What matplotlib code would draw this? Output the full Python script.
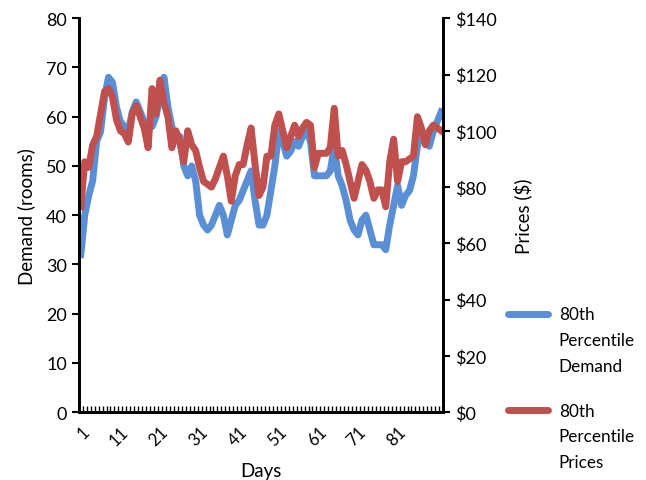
import numpy as np
import matplotlib.pyplot as plt
from matplotlib.lines import Line2D

plt.rcParams["font.family"] = ["Lato", "DejaVu Sans"]

# 80th percentile demand (rooms) and prices ($), one value per day
demand = [32, 40, 44, 47, 55, 57, 64, 68, 67, 62,
          59, 58, 57, 61, 63, 61, 59, 58, 58, 60,
          64, 68, 62, 58, 55, 56, 50, 48, 50, 47,
          40, 38, 37, 38, 40, 42, 40, 36, 39, 42,
          43, 45, 47, 49, 43, 38, 38, 40, 45, 50,
          57, 55, 52, 53, 55, 54, 56, 57, 55, 48,
          48, 48, 48, 49, 54, 48, 46, 43, 39, 37,
          36, 39, 40, 37, 34, 34, 34, 33, 38, 42,
          46, 42, 44, 45, 48, 54, 57, 55, 54, 57,
          59, 61]
prices = [73, 89, 87, 95, 98, 106, 114, 115, 112, 104,
          100, 99, 96, 106, 109, 105, 101, 94, 115, 106,
          118, 110, 105, 94, 100, 96, 89, 100, 95, 93,
          87, 82, 81, 80, 83, 87, 91, 84, 75, 84,
          88, 88, 95, 101, 88, 77, 80, 91, 91, 102,
          106, 100, 94, 98, 102, 98, 101, 103, 102, 87,
          92, 92, 92, 94, 108, 91, 93, 88, 82, 76,
          82, 88, 86, 82, 76, 79, 79, 73, 89, 97,
          82, 89, 89, 90, 91, 105, 101, 95, 100, 102,
          101, 100]
days = np.arange(1, len(demand) + 1)
day_labels = [1, 11, 21, 31, 41, 51, 61, 71, 81]
series = ["80th\nPercentile\nDemand", "80th\nPercentile\nPrices"]
colors = ["#5A8FD6", "#C0504D"]

fig = plt.figure(figsize=(6.46, 4.81), dpi=100)
ax = fig.add_axes([0.122, 0.141, 0.564, 0.819])
ax2 = ax.twinx()

ax.plot(days, demand, color=colors[0], lw=5, solid_joinstyle="round")
ax2.plot(days, prices, color=colors[1], lw=5, solid_joinstyle="round")

ax.set_xlim(0.5, len(days) + 0.5)
ax.set_ylim(0, 80)
ax2.set_ylim(0, 140)
ax.set_yticks(range(0, 81, 10))
ax2.set_yticks(range(0, 141, 20))
ax2.set_yticklabels([f"${v}" for v in range(0, 141, 20)])

ax.set_xticks(day_labels)
ax.set_xticks(np.arange(0.5, len(days) + 1), minor=True)
ax.set_xticklabels([str(d) for d in day_labels],
                   rotation=45, ha="right", va="top", rotation_mode="anchor")
ax.tick_params(axis="x", which="major", length=0, pad=8, labelsize=12)
ax.tick_params(axis="x", which="minor", direction="in", length=4, width=1)
ax.tick_params(axis="y", direction="out", length=5, width=1.5, labelsize=13)
ax2.tick_params(axis="y", direction="out", length=5, width=1.5, labelsize=13)

for a in (ax, ax2):
    a.spines["top"].set_visible(False)
    for s in ("left", "right", "bottom"):
        a.spines[s].set_linewidth(2)

ax.set_xlabel("Days", fontsize=13.5, labelpad=10)
ax.set_ylabel("Demand (rooms)", fontsize=13.5, labelpad=8)
ax2.set_ylabel("Prices ($)", fontsize=13.5, labelpad=12)

# legend at right, handle aligned with first text line
for i, (name, c) in enumerate(zip(series, colors)):
    y = 0.345 - i * 0.20
    fig.add_artist(Line2D([0.786, 0.849], [y, y], color=c, lw=5,
                          solid_capstyle="round", transform=fig.transFigure))
    fig.text(0.865, y + 0.016, name, fontsize=12.3, ha="left",
             va="top", linespacing=1.75, transform=fig.transFigure)

plt.savefig("out.png", dpi=100)
